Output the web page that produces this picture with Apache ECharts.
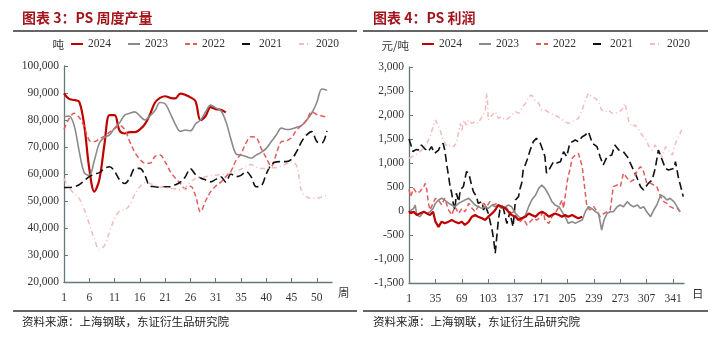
<!DOCTYPE html>
<html><head><meta charset="utf-8">
<script src="https://cdn.jsdelivr.net/npm/echarts@6/dist/echarts.min.js"></script>
<style>html,body{margin:0;padding:0;background:#fff}#c{width:718px;height:339px}</style>
</head><body><div id="c"></div>
<script>
// ---------- Left chart: PS weekly output (tonnes) ----------
const weeks = ['1','2','3','4','5','6','7','8','9','10','11','12','13','14','15','16','17','18','19','20','21','22','23','24','25','26','27','28','29','30','31','32','32','33','34','35','36','37','38','39','40','41','42','43','44','45','46','47','48','49','50','51','52','53'];
const yearNames = ['2024','2023','2022','2021','2020'];
const out2024 = [89900,87800,87400,86800,78000,62000,53500,58000,71000,81800,81800,76000,75000,75500,75500,76500,78500,82000,86500,88200,88800,88200,88000,89800,89300,88400,87000,80000,81500,84800,84000,83800,82800];
const out2023 = [81200,81500,78000,68500,60500,59500,65000,71500,73500,74500,77000,79000,81800,82500,83000,81500,80000,81500,83500,86500,86000,82500,78500,75800,76300,76000,78500,80000,83000,85500,84500,83500,79500,73000,67500,67000,66500,65900,67000,68000,69500,72000,74500,77000,76500,76700,77300,78000,80000,82600,86500,91500,91000];
const out2022 = [76500,80500,82500,81000,77500,72500,72000,73000,74000,75500,76800,78000,76500,72000,68000,65500,64000,64000,66500,67000,64500,61000,58500,56500,54500,55500,52000,46000,50000,53500,55500,57000,59000,61000,65000,67500,71500,73800,73500,69500,66000,62800,67500,72000,72300,73500,76300,78000,80000,83000,82000,81500,81000];
const out2021 = [55000,55000,55300,56000,57500,59000,60000,60500,62000,62700,61000,57800,56500,58500,62000,62100,59500,55500,55300,55000,55300,55300,56000,57000,59000,62000,59800,58500,57800,57100,58000,59000,57000,60000,59000,59500,60900,59000,55300,55600,60000,63500,64500,64600,64600,65500,68300,72000,74500,75700,72000,71500,76000];
const out2020 = [58300,55000,52800,51000,47000,41500,36000,32000,33500,38500,43500,46300,46700,48500,52500,55300,56800,56500,55800,55200,55000,54700,54500,54200,55000,57000,58300,58500,59000,59300,59600,59800,60000,60500,61000,61800,62800,63500,62500,62000,62100,62300,62300,63000,63800,64500,63000,53500,51500,51000,51000,51500,52200];

// ---------- Right chart: PS profit (yuan/tonne), by day of year ----------
const days2024 = [1,3,7,11,15,20,24,28,30,32,35,39,43,47,52,56,60,65,69,73,78,82,86,90,95,99,103,108,112,116,120,125,129,133,138,142,146,151,155,159,164,168,172,176,181,185,189,194,198,202,206,211,215,219,224];
const prof2024 = [0,-50,-15,-83,-50,-15,-50,-83,-118,-15,-222,-330,-222,-257,-222,-187,-222,-257,-222,-292,-222,-118,-83,-118,-153,-187,-118,-50,20,125,90,55,-15,-83,-118,-187,-153,-118,-50,-83,-118,-50,-15,-50,-118,-83,-50,-83,-118,-83,-118,-83,-118,-153,-118];
const days2023 = [1,3,7,9,11,15,20,24,28,32,35,39,43,47,52,56,60,65,69,73,78,82,86,90,95,99,103,108,112,116,120,125,129,133,138,142,146,151,155,159,164,168,172,174,176,181,185,189,194,198,202,206,211,215,219,224,228,232,236,241,245,249,252,256,260,264,269,273,277,282,286,290,295,299,303,307,312,316,320,325,329,333,337,342,346,350];
const prof2023 = [-15,-15,55,125,-83,-118,-15,-50,-15,55,160,229,264,229,160,125,90,160,195,229,264,195,125,90,55,90,55,125,90,125,55,90,125,90,-50,-118,-153,-83,90,229,333,472,541,507,472,333,195,125,90,-15,-118,-257,-222,-257,-222,-187,-15,90,55,-15,-50,-396,-187,-50,-15,-15,90,125,90,195,125,90,125,55,90,-15,-118,20,125,333,299,229,264,195,90,-15];
const days2022 = [1,3,7,11,15,20,22,24,26,28,30,35,39,43,47,52,56,60,65,69,73,78,82,86,90,97,101,105,110,114,118,123,127,131,136,140,144,148,153,157,161,166,170,174,176,181,185,189,194,198,200,202,205,209,211,215,219,221,224,226,228,230,234,239,243,247,252,256,260,264,269,273,277,282,286,290,295,299,303,307,312,316,320,325,329,333,337,342,346,350];
const prof2022 = [450,299,472,368,403,507,576,437,160,20,90,264,229,125,264,20,-83,90,-50,55,-15,160,55,-15,90,160,90,195,125,160,90,125,55,-50,-15,-153,-222,-153,-292,-222,-153,-190,-118,-15,-190,-260,-118,-50,90,229,55,299,646,924,1097,1167,1201,1097,924,646,368,90,20,90,-15,-118,-50,-15,20,507,541,507,785,680,611,646,854,924,820,576,576,541,507,299,195,160,90,55,55,-15];
const days2021 = [1,3,6,10,13,17,21,26,30,34,39,41,45,47,50,52,54,56,58,60,62,65,67,71,75,78,80,82,84,88,90,95,97,99,103,105,108,110,112,114,116,118,122,125,127,131,133,135,138,142,144,146,148,153,157,161,165,170,174,176,178,181,187,191,196,200,204,208,215,219,224,228,232,237,243,247,251,256,262,266,271,277,282,286,290,294,299,303,309,314,318,322,327,331,335,342,344,348,352,354];
const prof2021 = [1500,1400,1240,1280,1270,1375,1300,1240,1340,1200,1270,1340,1410,1270,925,715,500,370,160,20,370,195,440,510,820,785,645,510,400,300,160,195,20,125,-50,-190,-400,-600,-880,-535,-190,20,90,-120,-260,-15,-190,-330,230,300,470,576,850,1062,1270,1445,1514,1410,1236,1130,790,854,1028,1000,1028,1236,1132,1410,1480,1444,1548,1583,1653,1410,1340,1132,958,1132,1167,1375,1270,1236,1132,993,854,715,507,437,576,646,889,1270,1062,889,854,889,1028,680,437,300];
const days2020 = [1,9,15,20,24,28,32,35,37,41,45,50,54,58,62,67,69,71,75,78,82,86,90,95,99,101,102,103,108,112,116,120,125,129,133,138,142,146,151,155,159,163,168,172,176,183,189,196,202,206,211,215,219,224,228,232,236,241,245,249,254,258,262,267,271,275,279,282,284,288,292,297,301,305,310,314,318,322,327,331,335,340,344,348,352];
const prof2020 = [1097,1167,1236,1305,1410,1548,1757,1896,1861,1687,1479,1340,1375,1340,1410,1826,1653,1896,1792,1896,1826,1861,1826,1965,2070,2451,2312,1896,2000,2070,1930,1965,1896,1930,2000,2070,2035,2139,2243,2382,2416,2312,2243,2104,2104,2035,2000,1930,1861,1826,1861,1896,1930,2104,2312,2451,2382,2347,2278,2104,2070,2104,2035,2035,2070,2104,2243,2035,1861,1757,1792,1687,1583,1514,1340,1270,1375,1236,1132,1340,1270,1167,1410,1548,1687];

const pair = (d, v) => d.map((x, i) => [x, v[i]]);

const styles = {
  '2024': {color:'#c00000', width:2.2, type:'solid'},
  '2023': {color:'#8a8a8a', width:1.6, type:'solid'},
  '2022': {color:'#e35b5b', width:1.5, type:[5,3]},
  '2021': {color:'#111111', width:1.6, type:[8,4]},
  '2020': {color:'#f3bcbc', width:1.5, type:[5,3,1,3]}
};

const serif = '"Liberation Serif","DejaVu Serif",serif';
const cjk = '"Noto Sans CJK SC","Noto Sans",sans-serif';
const axisCol = '#66787a';
const fmt = v => Number(v).toLocaleString('en-US');

function mk(name, data, xi, smooth) {
  const s = styles[name];
  return {name, type:'line', xAxisIndex:xi, yAxisIndex:xi, data, symbol:'none', smooth,
    lineStyle:{color:s.color, width:s.width, type:s.type}, itemStyle:{color:s.color}, animation:false};
}

const leftSeries = [
  mk('2024', out2024, 0, 0.35), mk('2023', out2023, 0, 0.35), mk('2022', out2022, 0, 0.35),
  mk('2021', out2021, 0, 0.35), mk('2020', out2020, 0, 0.35)
];
const rightSeries = [
  mk('2020', pair(days2020, prof2020), 1, false),
  mk('2021', pair(days2021, prof2021), 1, false),
  mk('2022', pair(days2022, prof2022), 1, false),
  mk('2023', pair(days2023, prof2023), 1, false),
  mk('2024', pair(days2024, prof2024), 1, false)
];

const legendBase = {
  data: yearNames, top: 38, itemWidth: 12, itemHeight: 8, itemGap: 16,
  itemStyle: {opacity: 0, color: 'transparent', borderWidth: 0},
  textStyle: {fontFamily: serif, fontSize: 11.5, color: '#333'}, padding: 0
};

const axisCommon = {
  axisLine:{show:true, onZero:false, lineStyle:{color:axisCol, width:1.3}},
  axisTick:{show:true, inside:true, length:4, lineStyle:{color:axisCol}},
  splitLine:{show:false},
  axisLabel:{fontFamily:serif, fontSize:11.5, color:'#333'}
};

const chart = echarts.init(document.getElementById('c'), null, {renderer:'canvas'});
chart.setOption({
  animation:false,
  backgroundColor:'#ffffff',
  title:[
    {text:'图表 3：PS 周度产量', left:22, top:11, padding:0, textStyle:{fontFamily:cjk, fontSize:14, fontWeight:'bold', color:'#a3141c'}},
    {text:'图表 4：PS 利润', left:373, top:11, padding:0, textStyle:{fontFamily:cjk, fontSize:14, fontWeight:'bold', color:'#a3141c'}},
    {text:'资料来源：上海钢联，东证衍生品研究院', left:22, top:316, padding:0, textStyle:{fontFamily:cjk, fontSize:11.5, fontWeight:'normal', color:'#222'}},
    {text:'资料来源：上海钢联，东证衍生品研究院', left:373, top:316, padding:0, textStyle:{fontFamily:cjk, fontSize:11.5, fontWeight:'normal', color:'#222'}}
  ],
  graphic:[
    {type:'line', shape:{x1:13, y1:31, x2:357, y2:31}, style:{stroke:'#333', lineWidth:1.5}, silent:true},
    {type:'line', shape:{x1:363, y1:31, x2:708, y2:31}, style:{stroke:'#333', lineWidth:1.5}, silent:true},
    {type:'line', shape:{x1:13, y1:311, x2:357, y2:311}, style:{stroke:'#333', lineWidth:1.5}, silent:true},
    {type:'line', shape:{x1:363, y1:311, x2:708, y2:311}, style:{stroke:'#333', lineWidth:1.5}, silent:true}
  ],
  legend:[
    Object.assign({}, legendBase, {left:70}),
    Object.assign({}, legendBase, {left:421})
  ],
  grid:[
    {left:64, top:66, width:268, height:216, containLabel:false},
    {left:409, top:67, width:275, height:216, containLabel:false}
  ],
  xAxis:[
    Object.assign({}, axisCommon, {
      gridIndex:0, type:'category', data:weeks, boundaryGap:false,
      name:'周', nameLocation:'end', nameGap:6,
      nameTextStyle:{fontFamily:cjk, fontSize:11.5, color:'#333', verticalAlign:'top', padding:[5,0,0,0]},
      axisTick:{show:true, inside:true, length:4, interval:4, lineStyle:{color:axisCol}},
      axisLabel:{fontFamily:serif, fontSize:11.5, color:'#333', interval:4, margin:10}
    }),
    Object.assign({}, axisCommon, {
      gridIndex:1, type:'value', min:1, max:355, interval:34,
      name:'日', nameLocation:'end', nameGap:8,
      nameTextStyle:{fontFamily:cjk, fontSize:11.5, color:'#333', verticalAlign:'top', padding:[5,0,0,0]},
      axisLabel:{fontFamily:serif, fontSize:11.5, color:'#333', margin:10, showMaxLabel:false}
    })
  ],
  yAxis:[
    Object.assign({}, axisCommon, {
      gridIndex:0, type:'value', min:20000, max:100000, interval:10000,
      name:'吨', nameLocation:'end', nameGap:16,
      nameTextStyle:{fontFamily:cjk, fontSize:11.5, color:'#333', align:'right'},
      axisLabel:{fontFamily:serif, fontSize:11.5, color:'#333', margin:5, formatter:fmt}
    }),
    Object.assign({}, axisCommon, {
      gridIndex:1, type:'value', min:-1500, max:3000, interval:500,
      name:'元/吨', nameLocation:'end', nameGap:16,
      nameTextStyle:{fontFamily:cjk, fontSize:11.5, color:'#333', align:'right'},
      axisLabel:{fontFamily:serif, fontSize:11.5, color:'#333', margin:5, formatter:fmt}
    })
  ],
  series: leftSeries.concat(rightSeries)
});
</script></body></html>
